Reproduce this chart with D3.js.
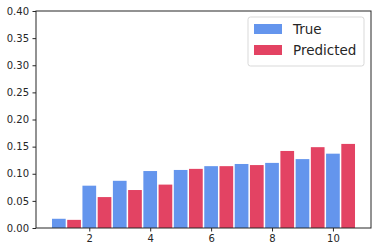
<!DOCTYPE html>
<html>
<head>
<meta charset="utf-8">
<script src="https://cdn.jsdelivr.net/npm/d3@7"></script>
<style>
body { margin: 0; background: #fff; }
svg { font-family: 'DejaVu Sans', sans-serif; }
.axis text { font-family: 'DejaVu Sans', sans-serif; font-size: 10px; fill: #262626; }
.axis path, .axis line { stroke: #262626; }
</style>
</head>
<body>
<div id="chart"></div>
<script>
let width = 378
let height = 252

let margins = {
	'top': 11,
	'right': 7,
	'bottom': 24,
	'left': 36,
}

// data
let positions = [1, 2, 3, 4, 5, 6, 7, 8, 9, 10]
let trueValues = [0.017, 0.078, 0.087, 0.105, 0.107, 0.114, 0.118, 0.120, 0.127, 0.137]
let predictedValues = [0.015, 0.057, 0.070, 0.080, 0.109, 0.114, 0.116, 0.142, 0.149, 0.155]
let seriesNames = ['True', 'Predicted']
let seriesColors = ['#6495ed', '#e34363']
let xTicks = [2, 4, 6, 8, 10]
let yTicks = [0, 0.05, 0.10, 0.15, 0.20, 0.25, 0.30, 0.35, 0.40]

let innerW = width - margins.left - margins.right
let innerH = height - margins.top - margins.bottom

let xScale = d3.scaleLinear()
	.domain([0.25, 11.25])
	.range([0, innerW])

let yScale = d3.scaleLinear()
	.domain([0, 0.40])
	.range([innerH, 0])

let barW = 0.45

let svg = d3.select('#chart').append('svg')
	.attr('width', width)
	.attr('height', height)

let inner = svg.append('g')
	.attr('transform', 'translate(' + margins.left + ',' + margins.top + ')')

let marks = inner.append('g')

let series = [trueValues, predictedValues]
series.forEach((vals, s) => {
	marks.append('g').selectAll('rect')
		.data(vals)
		.enter().append('rect')
		.attr('x', (d, i) => xScale(positions[i] + s * 0.5 - barW / 2))
		.attr('width', xScale(barW) - xScale(0))
		.attr('y', (d) => yScale(d))
		.attr('height', (d) => yScale(0) - yScale(d))
		.attr('fill', seriesColors[s])
})

let xAxis = d3.axisBottom(xScale)
	.tickValues(xTicks)
	.tickFormat(d3.format('d'))
	.tickSize(3.5)
	.tickPadding(3.5)

let yAxis = d3.axisLeft(yScale)
	.tickValues(yTicks)
	.tickFormat(d3.format('.2f'))
	.tickSize(3.5)
	.tickPadding(3.5)

inner.append('g')
	.attr('class', 'axis')
	.attr('transform', `translate(0,${innerH})`)
	.call(xAxis)
	.call(g => g.select('.domain').remove())

inner.append('g')
	.attr('class', 'axis')
	.call(yAxis)
	.call(g => g.select('.domain').remove())

// frame
inner.append('rect')
	.attr('width', innerW)
	.attr('height', innerH)
	.attr('fill', 'none')
	.attr('stroke', '#262626')
	.attr('stroke-width', 1)

// legend
let legend = inner.append('g')
	.attr('transform', 'translate(' + (248 - margins.left) + ',' + (17 - margins.top) + ')')

legend.append('rect')
	.attr('width', 116)
	.attr('height', 49)
	.attr('rx', 2.5)
	.attr('fill', 'white')
	.attr('fill-opacity', 0.8)
	.attr('stroke', '#d9d9d9')

seriesNames.forEach((name, i) => {
	legend.append('rect')
		.attr('x', 6)
		.attr('y', 7 + i * 21)
		.attr('width', 28)
		.attr('height', 10)
		.attr('fill', seriesColors[i])
	legend.append('text')
		.attr('x', 45)
		.attr('y', 17 + i * 21)
		.attr('font-size', '13.5px')
		.attr('fill', '#262626')
		.text(name)
})
</script>
</body>
</html>
